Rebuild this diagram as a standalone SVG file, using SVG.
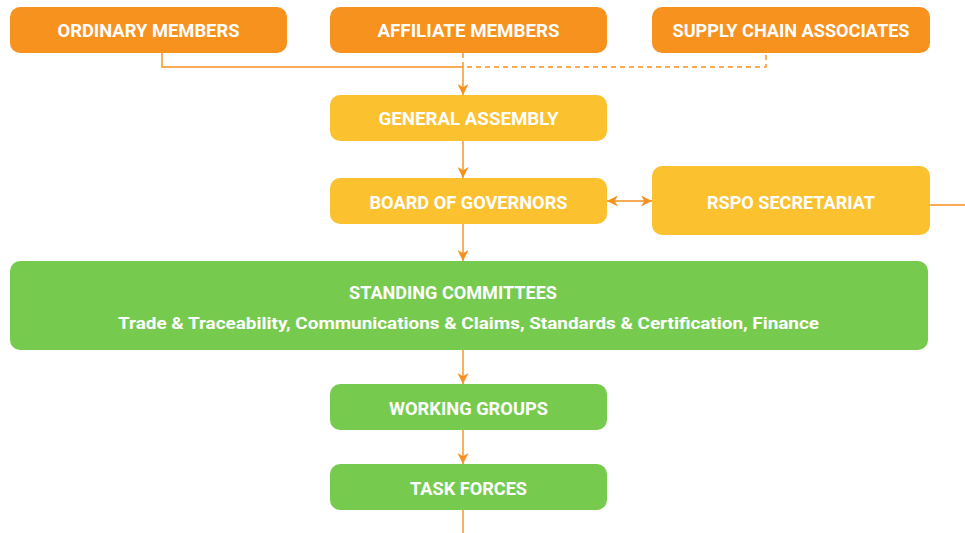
<svg xmlns="http://www.w3.org/2000/svg" width="965" height="533" viewBox="0 0 965 533">
<style>
.box rect{stroke:none}
.org rect{fill:#F7921E}
.yel rect{fill:#FCC12F}
.grn rect{fill:#76CB4E}
text{font-family:Roboto,"DejaVu Sans",sans-serif;font-weight:700;fill:#fff;text-anchor:middle}
.t{font-size:17.5px}
.s{font-size:17px}
.c{stroke:#F7901E;stroke-width:1.4;fill:none}
.d{stroke-dasharray:5,4}
</style>
<defs>
<marker id="ah" viewBox="0 0 10 10" refX="10" refY="5" markerWidth="11" markerHeight="11" markerUnits="userSpaceOnUse" orient="auto-start-reverse">
<path d="M0,0 L10,5 L0,10 L3,5 z" fill="#F7901E"/>
</marker>
</defs>
<g id="connectors">
<path class="c" d="M162,36 V67 H463"/>
<path class="c d" d="M463,53 V67 H766 V40"/>
<path class="c" d="M463,67 V95" marker-end="url(#ah)"/>
<path class="c" d="M463,141 V178" marker-end="url(#ah)"/>
<path class="c" d="M463,224 V261" marker-end="url(#ah)"/>
<path class="c" d="M607,201 H652" marker-start="url(#ah)" marker-end="url(#ah)"/>
<path class="c" d="M930,205 H965"/>
<path class="c" d="M463,350 V384" marker-end="url(#ah)"/>
<path class="c" d="M463,430 V464" marker-end="url(#ah)"/>
<path class="c" d="M463,510 V533"/>
</g>
<g id="ordinary" class="box org"><rect x="10" y="7" width="277" height="46" rx="10"/><text class="t" x="148.5" y="37" textLength="182" lengthAdjust="spacingAndGlyphs">ORDINARY MEMBERS</text></g>
<g id="affiliate" class="box org"><rect x="330" y="7" width="277" height="46" rx="10"/><text class="t" x="468.5" y="37" textLength="182" lengthAdjust="spacingAndGlyphs">AFFILIATE MEMBERS</text></g>
<g id="supply" class="box org"><rect x="652" y="7" width="278" height="46" rx="10"/><text class="t" x="791" y="37" textLength="237" lengthAdjust="spacingAndGlyphs">SUPPLY CHAIN ASSOCIATES</text></g>
<g id="general" class="box yel"><rect x="330" y="95" width="277" height="46" rx="10"/><text class="t" x="468.5" y="125" textLength="180" lengthAdjust="spacingAndGlyphs">GENERAL ASSEMBLY</text></g>
<g id="board" class="box yel"><rect x="330" y="178" width="277" height="46" rx="10"/><text class="t" x="468.5" y="209" textLength="198" lengthAdjust="spacingAndGlyphs">BOARD OF GOVERNORS</text></g>
<g id="secretariat" class="box yel"><rect x="652" y="166" width="278" height="69" rx="10"/><text class="t" x="791" y="209" textLength="168" lengthAdjust="spacingAndGlyphs">RSPO SECRETARIAT</text></g>
<g id="standing" class="box grn"><rect x="10" y="261" width="918" height="89" rx="10"/><text class="t" x="453" y="299" textLength="208" lengthAdjust="spacingAndGlyphs">STANDING COMMITTEES</text><text class="s" x="468.5" y="329" textLength="701" lengthAdjust="spacingAndGlyphs">Trade &amp; Traceability, Communications &amp; Claims, Standards &amp; Certification, Finance</text></g>
<g id="working" class="box grn"><rect x="330" y="384" width="277" height="46" rx="10"/><text class="t" x="468.5" y="415" textLength="159" lengthAdjust="spacingAndGlyphs">WORKING GROUPS</text></g>
<g id="task" class="box grn"><rect x="330" y="464" width="277" height="46" rx="10"/><text class="t" x="468.5" y="495" textLength="117" lengthAdjust="spacingAndGlyphs">TASK FORCES</text></g>
</svg>
